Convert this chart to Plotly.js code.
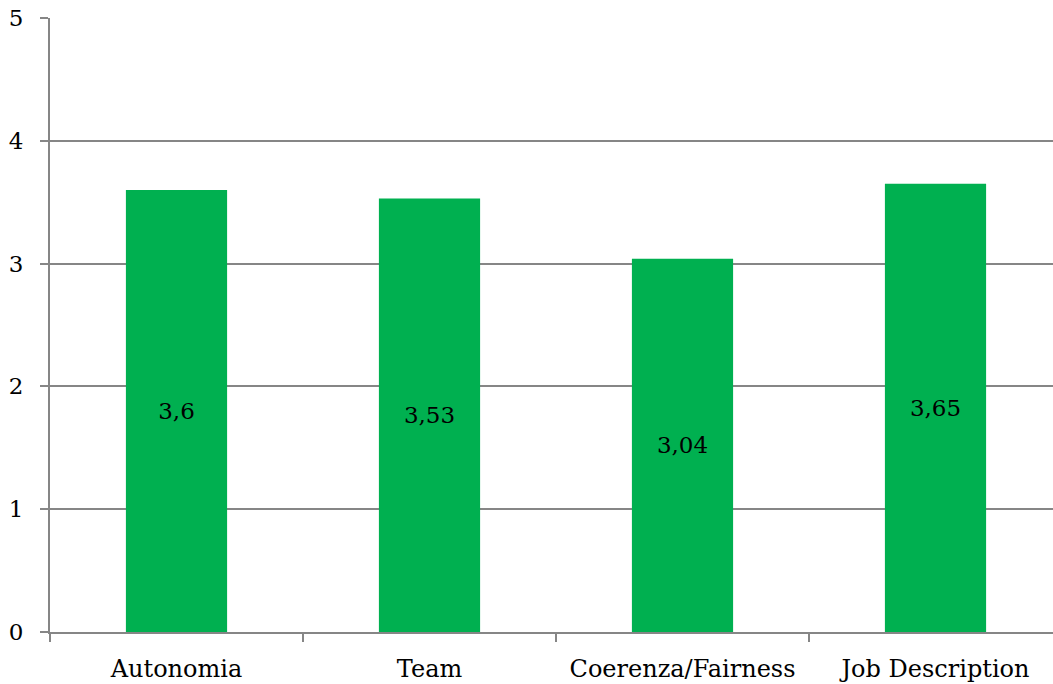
<!DOCTYPE html>
<html><head><meta charset="utf-8">
<script src="https://cdn.plot.ly/plotly-3.0.1.min.js"></script>
<style>html,body{margin:0;padding:0;overflow:hidden;background:#fff}</style>
</head><body>
<div id="chart"></div>
<script>
const categories = ["Autonomia", "Team", "Coerenza/Fairness", "Job Description"];
const values = [3.6, 3.53, 3.04, 3.65];
const labels = values.map(v => String(v).replace('.', ','));
const yTicks = [0, 1, 2, 3, 4, 5];

const fam = "DejaVu Serif, serif";
Plotly.newPlot("chart", [{
  type: "bar",
  x: categories,
  y: values,
  text: labels,
  textposition: "inside",
  insidetextanchor: "middle",
  textangle: 0,
  textfont: {family: fam, size: 23, color: "#000"},
  marker: {color: "#00B050"},
  hoverinfo: "skip"
}], {
  width: 1062, height: 684,
  margin: {l: 50, r: 0, t: 18, b: 52},
  paper_bgcolor: "#fff", plot_bgcolor: "#fff",
  bargap: 0.6,
  font: {family: fam, size: 22, color: "#000"},
  showlegend: false,
  xaxis: {
    showline: true, linecolor: "#868686", linewidth: 2,
    ticks: "outside", ticklen: 8, tickcolor: "#868686", tickwidth: 2,
    tickson: "boundaries", showgrid: false, automargin: false,
    tickfont: {family: fam, size: 24, color: "#000"}, ticklabelstandoff: 14
  },
  yaxis: {
    range: [0, 5], tickvals: yTicks, showline: true, linecolor: "#868686", linewidth: 2,
    ticks: "outside", ticklen: 8, tickcolor: "#868686", tickwidth: 2,
    showgrid: true, gridcolor: "#868686", gridwidth: 2, zeroline: false, automargin: false,
    tickfont: {family: fam, size: 23, color: "#000"}, ticklabelstandoff: 12
  }
}, {staticPlot: true, displayModeBar: false});
</script>
</body></html>
